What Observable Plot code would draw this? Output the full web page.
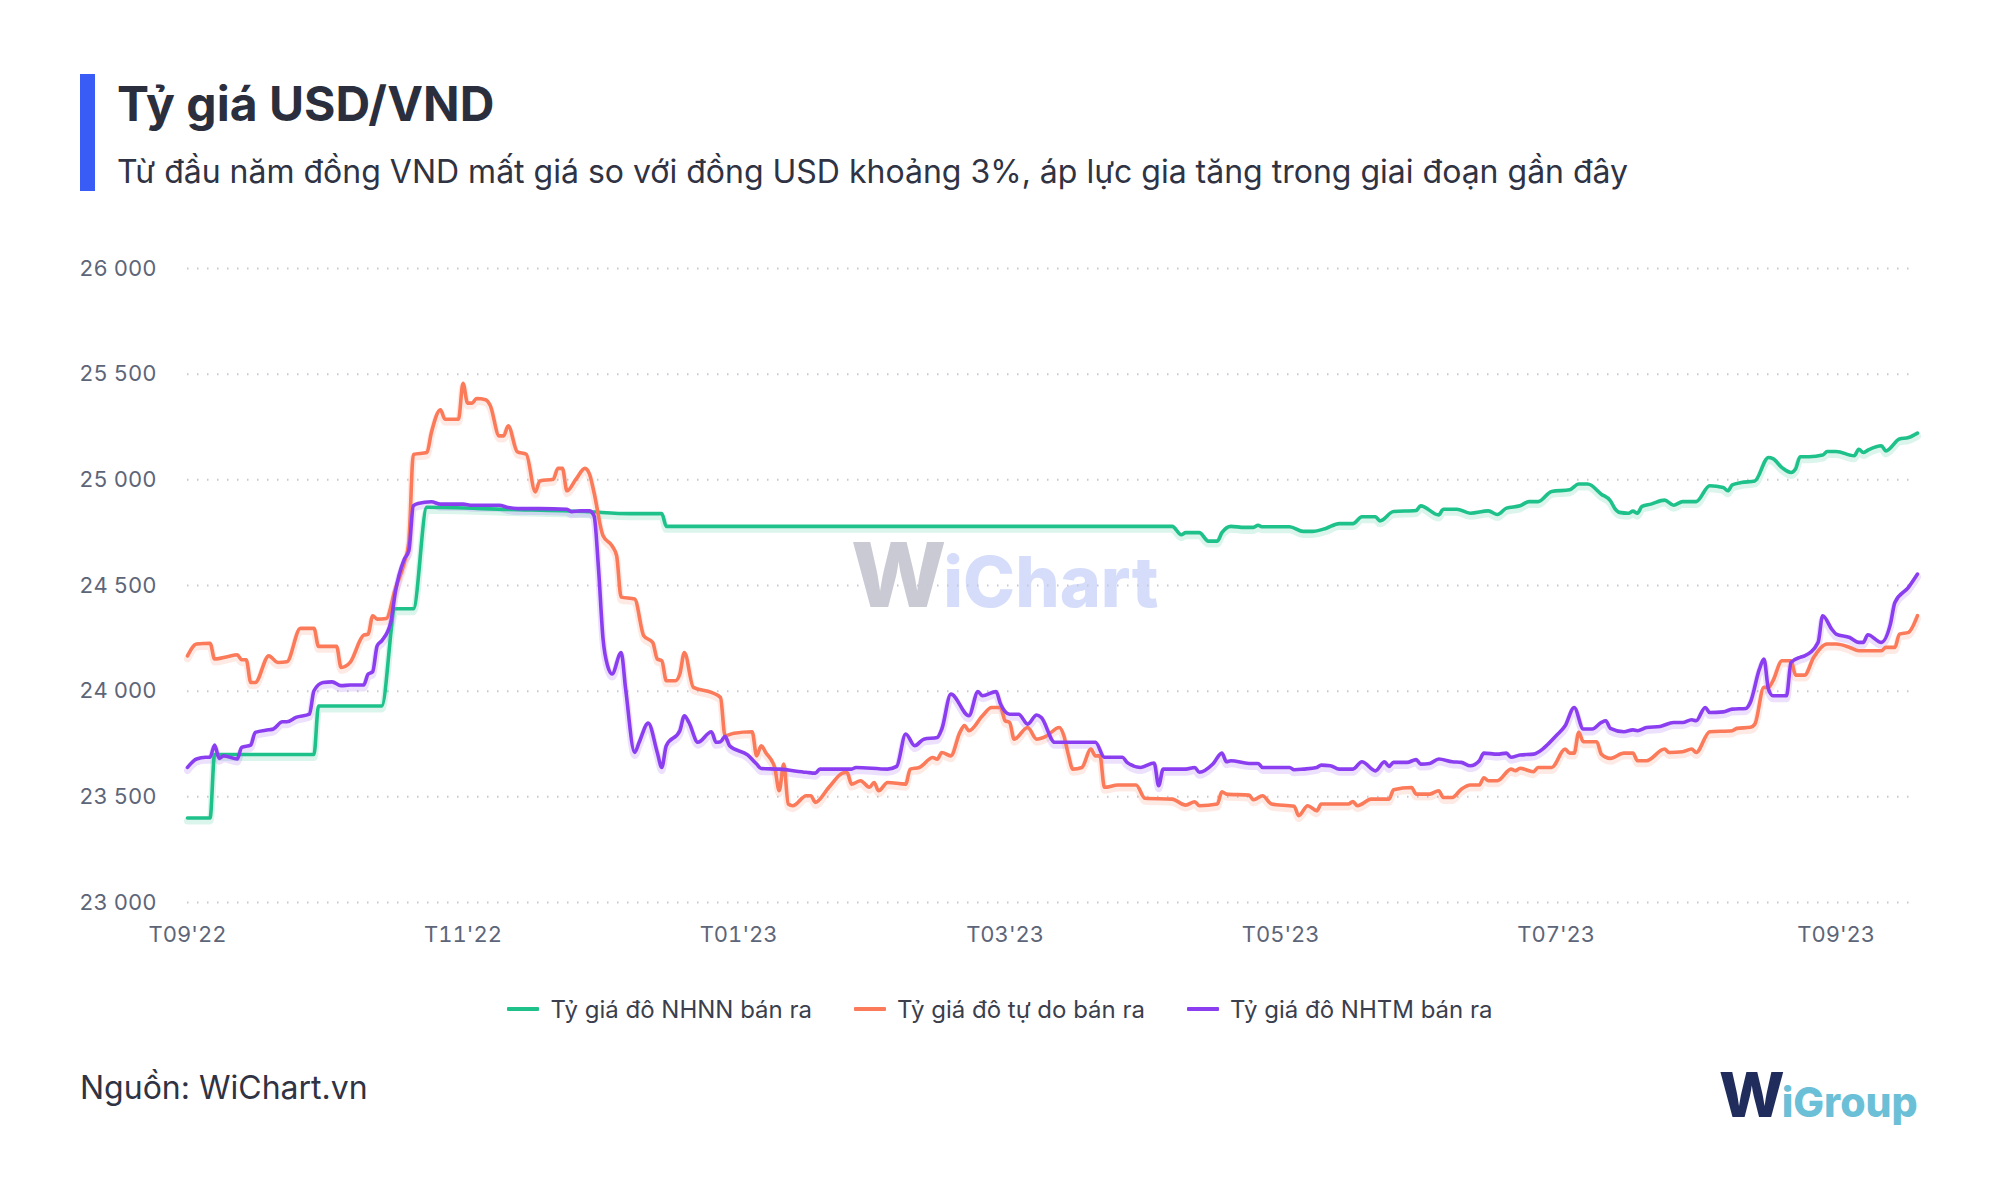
<!DOCTYPE html>
<html>
<head>
<meta charset="utf-8">
<script src="https://cdn.jsdelivr.net/npm/d3@7"></script>
<script src="https://cdn.jsdelivr.net/npm/@observablehq/plot@0.6"></script>
<style>
  html, body { margin: 0; padding: 0; background: #fff; }
  body { width: 2000px; height: 1184px; overflow: hidden; font-family: Inter, "Noto Sans", sans-serif; }
  #page { position: relative; width: 2000px; height: 1184px; }
  .abs { position: absolute; white-space: nowrap; }
  #bar { left: 80px; top: 74px; width: 15px; height: 117px; background: #3a5cf6; }
  #title { left: 117px; top: 80px; font-size: 48px; line-height: 48px; font-weight: 700; color: #2b2f3d; }
  #subtitle { left: 117px; top: 156px; font-size: 32px; line-height: 32px; color: #2f3343; }
  #chart { left: 0; top: 230px; }
  #watermark { left: 851px; top: 530px; font-weight: 800; line-height: 1; }
  #watermark .w { color: #c9cad4; font-size: 90px; letter-spacing: -3px; }
  #watermark .c { color: #d5ddfa; font-size: 70px; }
  #legend { left: 0; top: 993px; width: 2000px; height: 32px; display: flex; justify-content: center; align-items: center; gap: 42px; font-size: 24px; color: #3b3f4d; }
  .item { display: flex; align-items: center; gap: 11px; }
  .sw { width: 32px; height: 4px; border-radius: 1px; }
  #source { left: 80px; top: 1071px; font-size: 32px; line-height: 34px; color: #2f3343; }
  #logo { left: 1719px; top: 1064px; font-weight: 800; line-height: 1; }
  #logo .w { color: #1f2c5c; font-size: 62px; letter-spacing: -3px; }
  #logo .g { color: #6bbfd6; font-size: 41px; }
</style>
</head>
<body>
<div id="page">
  <div id="bar" class="abs"></div>
  <div id="title" class="abs">Tỷ giá USD/VND</div>
  <div id="subtitle" class="abs">Từ đầu năm đồng VND mất giá so với đồng USD khoảng 3%, áp lực gia tăng trong giai đoạn gần đây</div>
  <div id="watermark" class="abs"><span class="w">W</span><span class="c">iChart</span></div>
  <div id="chart" class="abs"></div>
  <div id="legend" class="abs"></div>
  <div id="source" class="abs">Nguồn: WiChart.vn</div>
  <div id="logo" class="abs"><span class="w">W</span><span class="g">iGroup</span></div>
</div>
<script>
// ---- Data ----
const seriesNames = ["Tỷ giá đô NHNN bán ra", "Tỷ giá đô tự do bán ra", "Tỷ giá đô NHTM bán ra"];
const seriesColors = ["#1fc18a", "#fa7a5a", "#8a3ef0"];

const nhnn = [
  ["2022-09-01",23400],["2022-09-06",23400],["2022-09-07",23700],["2022-09-29",23700],["2022-09-30",23930],
  ["2022-10-14",23930],["2022-10-17",24390],["2022-10-21",24390],["2022-10-24",24870],["2022-11-11",24860],
  ["2022-11-28",24850],["2022-12-08",24840],["2022-12-15",24840],["2022-12-16",24780],["2023-04-07",24780],
  ["2023-04-09",24740],["2023-04-10",24750],["2023-04-13",24750],["2023-04-15",24710],["2023-04-17",24710],
  ["2023-04-18",24750],["2023-04-20",24780],["2023-04-23",24775],["2023-04-25",24775],["2023-04-26",24785],
  ["2023-04-27",24778],["2023-05-03",24778],["2023-05-06",24756],["2023-05-08",24756],["2023-05-11",24770],
  ["2023-05-14",24793],["2023-05-17",24793],["2023-05-19",24825],["2023-05-22",24825],["2023-05-23",24806],
  ["2023-05-26",24850],["2023-05-31",24855],["2023-06-01",24877],["2023-06-05",24834],["2023-06-06",24861],
  ["2023-06-09",24861],["2023-06-12",24842],["2023-06-16",24853],["2023-06-18",24836],["2023-06-20",24866],
  ["2023-06-23",24877],["2023-06-25",24897],["2023-06-27",24897],["2023-06-30",24945],["2023-07-04",24953],
  ["2023-07-06",24980],["2023-07-08",24980],["2023-07-11",24932],["2023-07-13",24901],["2023-07-14",24864],
  ["2023-07-15",24846],["2023-07-17",24842],["2023-07-18",24852],["2023-07-19",24842],["2023-07-20",24874],
  ["2023-07-22",24885],["2023-07-25",24904],["2023-07-27",24880],["2023-07-29",24897],["2023-08-01",24897],
  ["2023-08-04",24972],["2023-08-07",24964],["2023-08-08",24948],["2023-08-09",24976],["2023-08-11",24987],
  ["2023-08-14",24995],["2023-08-17",25106],["2023-08-18",25100],["2023-08-20",25058],["2023-08-22",25035],
  ["2023-08-23",25051],["2023-08-24",25109],["2023-08-26",25109],["2023-08-29",25117],["2023-08-30",25134],
  ["2023-09-01",25134],["2023-09-05",25114],["2023-09-06",25145],["2023-09-07",25129],["2023-09-08",25140],
  ["2023-09-11",25161],["2023-09-12",25137],["2023-09-15",25193],["2023-09-17",25200],["2023-09-19",25221]
];

const tuDo = [
  ["2022-09-01",24167],["2022-09-03",24223],["2022-09-06",24227],["2022-09-07",24152],["2022-09-10",24164],
  ["2022-09-12",24172],["2022-09-13",24149],["2022-09-14",24149],["2022-09-15",24041],["2022-09-16",24041],
  ["2022-09-19",24167],["2022-09-21",24136],["2022-09-23",24139],["2022-09-26",24297],["2022-09-29",24297],
  ["2022-09-30",24212],["2022-10-04",24212],["2022-10-05",24112],["2022-10-07",24136],["2022-10-10",24265],
  ["2022-10-11",24270],["2022-10-12",24357],["2022-10-13",24341],["2022-10-15",24344],["2022-10-17",24483],
  ["2022-10-19",24609],["2022-10-20",24704],["2022-10-21",25120],["2022-10-24",25129],["2022-10-25",25224],
  ["2022-10-27",25331],["2022-10-28",25287],["2022-10-31",25287],["2022-11-01",25457],["2022-11-02",25363],
  ["2022-11-03",25363],["2022-11-04",25385],["2022-11-06",25379],["2022-11-07",25353],["2022-11-09",25208],
  ["2022-11-10",25208],["2022-11-11",25256],["2022-11-13",25133],["2022-11-15",25121],["2022-11-17",24943],
  ["2022-11-18",24995],["2022-11-21",25003],["2022-11-22",25054],["2022-11-23",25054],["2022-11-24",24948],
  ["2022-11-26",25003],["2022-11-28",25054],["2022-11-29",25027],["2022-11-30",24940],["2022-12-02",24735],
  ["2022-12-04",24688],["2022-12-05",24641],["2022-12-06",24445],["2022-12-09",24436],["2022-12-11",24262],
  ["2022-12-13",24230],["2022-12-14",24152],["2022-12-15",24144],["2022-12-16",24049],["2022-12-18",24049],
  ["2022-12-19",24081],["2022-12-20",24183],["2022-12-22",24018],["2022-12-26",23994],["2022-12-28",23970],
  ["2022-12-29",23789],["2022-12-31",23801],["2023-01-04",23808],["2023-01-05",23694],["2023-01-06",23742],
  ["2023-01-07",23710],["2023-01-09",23639],["2023-01-10",23529],["2023-01-11",23655],["2023-01-12",23466],
  ["2023-01-13",23458],["2023-01-16",23505],["2023-01-17",23505],["2023-01-18",23474],["2023-01-21",23545],
  ["2023-01-24",23612],["2023-01-25",23616],["2023-01-26",23560],["2023-01-28",23576],["2023-01-30",23545],
  ["2023-01-31",23568],["2023-02-01",23529],["2023-02-03",23568],["2023-02-07",23560],["2023-02-08",23631],
  ["2023-02-10",23639],["2023-02-13",23686],["2023-02-14",23678],["2023-02-15",23710],["2023-02-17",23694],
  ["2023-02-19",23805],["2023-02-20",23837],["2023-02-21",23813],["2023-02-24",23884],["2023-02-26",23923],
  ["2023-02-28",23923],["2023-03-01",23860],["2023-03-02",23852],["2023-03-03",23773],["2023-03-06",23828],
  ["2023-03-08",23773],["2023-03-10",23786],["2023-03-13",23828],["2023-03-14",23790],["2023-03-15",23700],
  ["2023-03-16",23631],["2023-03-18",23639],["2023-03-20",23726],["2023-03-21",23694],["2023-03-22",23694],
  ["2023-03-23",23545],["2023-03-26",23556],["2023-03-30",23556],["2023-04-01",23493],["2023-04-07",23489],
  ["2023-04-10",23461],["2023-04-12",23477],["2023-04-13",23458],["2023-04-17",23466],["2023-04-18",23524],
  ["2023-04-19",23513],["2023-04-24",23508],["2023-04-25",23486],["2023-04-27",23505],["2023-04-29",23466],
  ["2023-05-04",23455],["2023-05-05",23411],["2023-05-07",23458],["2023-05-09",23434],["2023-05-10",23466],
  ["2023-05-16",23466],["2023-05-17",23478],["2023-05-18",23458],["2023-05-19",23466],["2023-05-21",23489],
  ["2023-05-25",23489],["2023-05-26",23533],["2023-05-30",23544],["2023-05-31",23513],["2023-06-03",23513],
  ["2023-06-05",23529],["2023-06-06",23497],["2023-06-08",23497],["2023-06-10",23536],["2023-06-12",23556],
  ["2023-06-14",23556],["2023-06-15",23590],["2023-06-16",23576],["2023-06-18",23576],["2023-06-21",23631],
  ["2023-06-22",23624],["2023-06-23",23635],["2023-06-26",23619],["2023-06-27",23639],["2023-06-30",23639],
  ["2023-07-03",23726],["2023-07-04",23707],["2023-07-05",23707],["2023-07-06",23805],["2023-07-07",23761],
  ["2023-07-10",23761],["2023-07-11",23702],["2023-07-13",23682],["2023-07-16",23707],["2023-07-18",23707],
  ["2023-07-19",23671],["2023-07-21",23671],["2023-07-25",23726],["2023-07-26",23710],["2023-07-29",23713],
  ["2023-07-31",23726],["2023-08-01",23710],["2023-08-04",23808],["2023-08-09",23813],["2023-08-10",23824],
  ["2023-08-13",23829],["2023-08-14",23844],["2023-08-16",24018],["2023-08-17",24018],["2023-08-18",24049],
  ["2023-08-20",24144],["2023-08-22",24144],["2023-08-23",24076],["2023-08-25",24076],["2023-08-27",24159],
  ["2023-08-30",24223],["2023-09-01",24223],["2023-09-04",24207],["2023-09-06",24191],["2023-09-11",24191],
  ["2023-09-12",24207],["2023-09-14",24207],["2023-09-15",24270],["2023-09-17",24278],["2023-09-19",24357]
];

const nhtm = [
  ["2022-09-01",23639],["2022-09-03",23679],["2022-09-05",23687],["2022-09-06",23687],["2022-09-07",23745],
  ["2022-09-08",23682],["2022-09-09",23694],["2022-09-12",23679],["2022-09-13",23734],["2022-09-15",23745],
  ["2022-09-16",23805],["2022-09-19",23817],["2022-09-20",23821],["2022-09-22",23855],["2022-09-23",23855],
  ["2022-09-25",23876],["2022-09-28",23891],["2022-09-29",24002],["2022-10-01",24041],["2022-10-03",24044],
  ["2022-10-05",24026],["2022-10-07",24029],["2022-10-10",24029],["2022-10-11",24081],["2022-10-12",24092],
  ["2022-10-13",24215],["2022-10-14",24238],["2022-10-16",24325],["2022-10-17",24467],["2022-10-19",24625],
  ["2022-10-20",24664],["2022-10-21",24877],["2022-10-22",24888],["2022-10-25",24896],["2022-10-27",24885],
  ["2022-11-01",24885],["2022-11-03",24880],["2022-11-09",24880],["2022-11-11",24869],["2022-11-13",24864],
  ["2022-11-18",24864],["2022-11-24",24861],["2022-11-25",24849],["2022-11-27",24853],["2022-11-29",24853],
  ["2022-11-30",24830],["2022-12-01",24578],["2022-12-02",24246],["2022-12-03",24120],["2022-12-04",24081],
  ["2022-12-06",24183],["2022-12-07",24010],["2022-12-09",23710],["2022-12-10",23758],["2022-12-12",23849],
  ["2022-12-14",23710],["2022-12-15",23639],["2022-12-16",23742],["2022-12-19",23813],["2022-12-20",23884],
  ["2022-12-21",23852],["2022-12-23",23758],["2022-12-26",23808],["2022-12-27",23758],["2022-12-28",23761],
  ["2022-12-29",23786],["2022-12-30",23742],["2023-01-03",23698],["2023-01-05",23655],["2023-01-06",23634],
  ["2023-01-10",23631],["2023-01-16",23616],["2023-01-18",23612],["2023-01-19",23631],["2023-01-26",23631],
  ["2023-01-27",23639],["2023-02-03",23631],["2023-02-05",23644],["2023-02-07",23797],["2023-02-09",23742],
  ["2023-02-11",23773],["2023-02-14",23781],["2023-02-15",23821],["2023-02-17",23986],["2023-02-21",23884],
  ["2023-02-23",23998],["2023-02-24",23978],["2023-02-27",23998],["2023-02-28",23939],["2023-03-02",23891],
  ["2023-03-04",23891],["2023-03-06",23844],["2023-03-08",23887],["2023-03-09",23876],["2023-03-12",23758],
  ["2023-03-21",23758],["2023-03-23",23687],["2023-03-27",23687],["2023-03-28",23663],["2023-03-31",23639],
  ["2023-04-03",23660],["2023-04-04",23553],["2023-04-05",23631],["2023-04-10",23631],["2023-04-12",23639],
  ["2023-04-13",23616],["2023-04-16",23655],["2023-04-18",23707],["2023-04-19",23666],["2023-04-20",23671],
  ["2023-04-24",23658],["2023-04-26",23658],["2023-04-27",23639],["2023-05-03",23639],["2023-05-04",23628],
  ["2023-05-06",23631],["2023-05-09",23639],["2023-05-10",23650],["2023-05-12",23647],["2023-05-14",23631],
  ["2023-05-17",23631],["2023-05-19",23666],["2023-05-22",23623],["2023-05-24",23666],["2023-05-25",23644],
  ["2023-05-26",23663],["2023-05-29",23663],["2023-05-31",23676],["2023-06-01",23655],["2023-06-03",23658],
  ["2023-06-05",23679],["2023-06-08",23666],["2023-06-10",23663],["2023-06-12",23647],["2023-06-14",23671],
  ["2023-06-15",23707],["2023-06-18",23702],["2023-06-20",23707],["2023-06-21",23687],["2023-06-23",23698],
  ["2023-06-26",23702],["2023-06-28",23726],["2023-06-29",23745],["2023-07-01",23789],["2023-07-03",23836],
  ["2023-07-05",23923],["2023-07-07",23821],["2023-07-09",23821],["2023-07-11",23852],["2023-07-12",23860],
  ["2023-07-13",23824],["2023-07-16",23808],["2023-07-18",23817],["2023-07-19",23813],["2023-07-21",23828],
  ["2023-07-24",23833],["2023-07-27",23852],["2023-07-29",23852],["2023-07-31",23865],["2023-08-01",23860],
  ["2023-08-03",23923],["2023-08-04",23899],["2023-08-07",23902],["2023-08-09",23915],["2023-08-12",23918],
  ["2023-08-13",23947],["2023-08-15",24104],["2023-08-16",24152],["2023-08-17",24010],["2023-08-18",23978],
  ["2023-08-21",23978],["2023-08-22",24136],["2023-08-24",24160],["2023-08-25",24167],["2023-08-28",24231],
  ["2023-08-29",24357],["2023-08-31",24294],["2023-09-01",24270],["2023-09-04",24254],["2023-09-06",24231],
  ["2023-09-07",24231],["2023-09-08",24267],["2023-09-11",24231],["2023-09-13",24317],["2023-09-14",24420],
  ["2023-09-17",24491],["2023-09-19",24554]
];

const yTicks = [23000, 23500, 24000, 24500, 25000, 25500, 26000];
const xTickDates = ["2022-09-01", "2022-11-01", "2023-01-01", "2023-03-01", "2023-05-01", "2023-07-01", "2023-09-01"];
const xTickLabels = ["T09'22", "T11'22", "T01'23", "T03'23", "T05'23", "T07'23", "T09'23"];
const xDomain = ["2022-09-01", "2023-09-19"];

// ---- Build table ----
const parse = d3.utcParse("%Y-%m-%d");
const allSeries = [nhnn, tuDo, nhtm];
const rows = allSeries.flatMap((s, i) => s.map(([d, v]) => ({date: parse(d), value: v, series: seriesNames[i]})));
const tickDates = xTickDates.map(parse);
const fmtY = d => d3.format(",")(d).replace(/,/g, " ");
const fmtX = d => { const i = tickDates.findIndex(t => +t === +d); return i >= 0 ? xTickLabels[i] : ""; };

const chart = Plot.plot({
  width: 2000,
  height: 730,
  marginTop: 38,
  marginBottom: 58,
  marginLeft: 187,
  marginRight: 83,
  style: {background: "transparent", fontFamily: "Inter, 'Noto Sans', sans-serif", fontSize: "22px", color: "#5d6578"},
  x: {type: "utc", domain: xDomain.map(parse), ticks: tickDates, tickFormat: fmtX, tickSize: 0, tickPadding: 24, label: null},
  y: {domain: [23000, 26000], ticks: yTicks, tickFormat: fmtY, tickSize: 0, tickPadding: 31, label: null},
  color: {domain: seriesNames, range: seriesColors},
  marks: [
    Plot.ruleY(yTicks, {stroke: "#c5c8cf", strokeWidth: 2, strokeDasharray: "1.5,8.5"}),
    Plot.line(rows, {x: "date", y: "value", z: "series", stroke: "series", strokeWidth: 7, strokeOpacity: 0.16, dy: 3, curve: "monotone-x"}),
    Plot.line(rows, {x: "date", y: "value", z: "series", stroke: "series", strokeWidth: 3.6, curve: "monotone-x"})
  ]
});
document.getElementById("chart").appendChild(chart);

// ---- Legend ----
const legend = document.getElementById("legend");
seriesNames.forEach((name, i) => {
  const item = document.createElement("div");
  item.className = "item";
  const sw = document.createElement("div");
  sw.className = "sw";
  sw.style.background = seriesColors[i];
  const label = document.createElement("span");
  label.textContent = name;
  item.appendChild(sw);
  item.appendChild(label);
  legend.appendChild(item);
});
</script>
</body>
</html>
